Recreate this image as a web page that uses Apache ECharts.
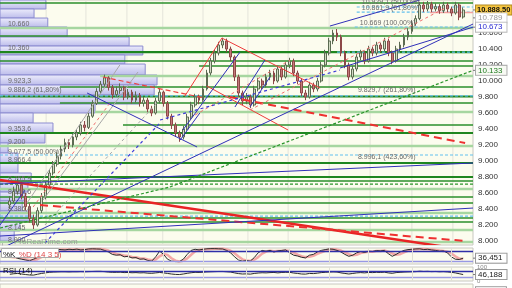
<!DOCTYPE html>
<html><head><meta charset="utf-8">
<script src="https://cdn.jsdelivr.net/npm/echarts@6/dist/echarts.min.js"></script>
<style>html,body{margin:0;padding:0;background:#fff}#c{width:512px;height:288px}</style>
</head><body><div id="c"></div>
<script>
// ---------- DATA ----------
const barCount = 120;          // category slots on the time axis
const firstBar = 2;            // index of first drawn candle
// [open, close, low, high]
const candles = [
[8450,8500,8400,8560],[8500,8620,8470,8680],[8620,8700,8580,8780],[8700,8560,8520,8740],
[8560,8430,8380,8600],[8430,8280,8230,8470],[8280,8200,8150,8330],[8200,8380,8180,8420],
[8380,8560,8350,8600],[8560,8700,8520,8740],[8700,8850,8670,8890],[8850,8960,8820,9000],
[8960,9060,8930,9110],[9060,9150,9020,9190],[9150,9230,9110,9280],[9230,9200,9150,9270],
[9200,9300,9170,9340],[9300,9350,9260,9400],[9350,9450,9320,9490],[9450,9420,9370,9500],
[9420,9560,9400,9600],[9560,9720,9540,9760],[9720,9870,9700,9910],[9870,9960,9840,10000],
[9960,10040,9920,10080],[10040,9920,9880,10060],[9920,9830,9780,9950],[9830,9880,9800,9930],
[9880,9920,9840,9970],[9920,9800,9760,9940],[9800,9860,9770,9900],[9860,9760,9720,9890],
[9760,9820,9730,9870],[9820,9720,9680,9850],[9720,9760,9680,9800],[9760,9650,9610,9790],
[9650,9600,9560,9690],[9600,9750,9580,9790],[9750,9860,9720,9900],[9860,9720,9680,9880],
[9720,9560,9520,9750],[9560,9450,9400,9590],[9450,9350,9300,9480],[9350,9300,9240,9380],
[9300,9400,9270,9440],[9400,9550,9380,9590],[9550,9700,9520,9740],[9700,9800,9670,9840],
[9800,9760,9710,9830],[9760,9900,9740,9940],[9900,10100,9880,10140],[10100,10250,10070,10290],
[10250,10350,10220,10390],[10350,10450,10320,10490],[10450,10500,10410,10540],[10500,10400,10360,10530],
[10400,10300,10250,10430],[10300,10050,10000,10320],[10050,9850,9800,10080],[9850,9750,9700,9880],
[9750,9800,9710,9850],[9800,9700,9660,9830],[9700,9900,9680,9940],[9900,10000,9870,10040],
[10000,9950,9900,10030],[9950,10050,9920,10090],[10050,10100,10010,10140],[10100,10000,9960,10130],
[10000,10150,9980,10190],[10150,10050,10010,10180],[10050,10200,10030,10240],[10200,10250,10160,10290],
[10250,10100,10060,10280],[10100,10000,9960,10130],[10000,9850,9810,10030],[9850,9800,9760,9890],
[9800,9950,9780,9990],[9950,9900,9860,9980],[9900,10000,9870,10040],[10000,10200,9980,10240],
[10200,10350,10170,10390],[10350,10500,10320,10540],[10500,10600,10460,10640],[10600,10550,10500,10650],
[10550,10350,10310,10580],[10350,10200,10160,10380],[10200,10050,10010,10230],[10050,10150,10020,10190],
[10150,10300,10120,10340],[10300,10350,10260,10390],[10350,10250,10210,10380],[10250,10400,10230,10440],
[10400,10350,10310,10430],[10350,10450,10320,10490],[10450,10400,10360,10480],[10400,10500,10370,10540],
[10500,10350,10310,10530],[10350,10250,10210,10380],[10250,10400,10230,10440],[10400,10450,10360,10490],
[10450,10550,10420,10590],[10550,10620,10510,10660],[10620,10720,10590,10760],[10720,10780,10690,10820],
[10780,10950,10760,10990],[10950,10900,10860,10990],[10900,10960,10870,11000],[10960,10900,10860,10990],
[10900,10930,10870,10970],[10930,10880,10840,10960],[10880,10950,10850,10990],[10950,10900,10860,10980],
[10900,10850,10810,10930],[10850,10950,10830,10990],[10950,10800,10760,10970],[10800,10888,10780,10920]
];
const priceTicks = [8000,8200,8400,8600,8800,9000,9200,9400,9600,9800,10000,10200,10400,10600,10800];
// horizontal levels: [price, fromBar, toBar, style]
const levels = [
[10975,-0.5,119.5,'g'],[10662,-0.5,119.5,'lg'],[10562,-0.5,119.5,'g'],[10362,-0.5,119.5,'G'],
[10362,85,119.5,'c'],[10250,-0.5,119.5,'g'],[10187,50,119.5,'g'],[10062,24.9,119.5,'lg'],
[9925,14.7,119.5,'g'],[9806,-0.5,119.5,'G'],[9815,-0.5,119.5,'c'],[9725,14.7,119.5,'g'],
[9612,23.6,119.5,'lg'],[9450,30.7,119.5,'g'],[9350,-0.5,119.5,'G'],[9187,-0.5,119.5,'lg'],
[9075,-0.5,119.5,'c'],[8975,-0.5,119.5,'G'],[8800,-0.5,119.5,'G'],[8750,-0.5,119.5,'g'],
[8712,-0.5,119.5,'gd'],[8650,-0.5,119.5,'lg'],[8550,-0.5,119.5,'g'],[8475,-0.5,119.5,'g'],
[8350,-0.5,119.5,'lg'],[8312,-0.5,119.5,'c'],[8287,-0.5,119.5,'g'],[8237,-0.5,119.5,'g'],
[8137,-0.5,119.5,'lg'],[7987,-0.5,119.5,'lg'],
[10925,90,119.5,'c'],[10862,90,119.5,'c'],[10675,89.5,119.5,'c'],[10856,108.6,119.5,'sal']
];
// trend lines: [bar1, price1, bar2, price2, style]
const trendLines = [
[-0.5,8762,119.5,7875,'R'],[9.65,8450,117.5,8000,'RD'],
[46.4,9812,55.8,10537,'r'],[55.8,10537,80.7,9912,'r'],[52.0,9937,72.6,9387,'r'],
[57.8,9800,117.5,9225,'RD'],[25.6,10050,51.5,9787,'rd'],
[7.9,8425,27.4,9725,'pd'],[49,9575,73.1,10262,'pd'],[62.9,9637,112.4,10912,'pd'],
[6.35,8475,29.9,10200,'gr'],[10.4,8512,34.5,10112,'gr'],[10.9,8200,39.3,9725,'grd'],
[-0.5,7900,119.5,10712,'b'],[85.75,10162,119.5,10673,'b'],[40.1,9512,85.75,10137,'bd'],
[83.2,10687,106,11012,'b'],[21.6,9850,49.5,9175,'b'],[45.9,9387,60.4,10362,'b'],
[59.1,9675,66.7,10262,'b'],[62.9,9675,68,10050,'b'],[-0.5,8712,119.5,8975,'b'],
[-0.5,8062,119.5,8412,'b'],[-0.5,8200,5.84,8637,'b'],[10.9,7975,40.1,9475,'bd'],
[45.2,9262,50.2,9600,'b'],
[-0.5,8162,42.6,8675,'gd'],[42.6,8675,119.5,10133,'gd']
];
const vGrid = [11.2,21.3,31.7,40.8,51,62.4,72.6,83,93.4,104,114.4];
const profileEdges = [11012,10900,10787,10675,10550,10437,10325,10212,10075,9950,9825,9712,9600,9475,9350,9225,9100,8975,8850,8737,8612,8500,8375,8250,8125,8000];
const profileVol = [9.7,7.2,10.1,14.2,27.3,30.2,26.4,30.7,33.2,32.6,29.6,20.1,7.0,11.2,9.5,1.7,3.8,3.8,6.6,5.9,5.3,4.7,6.3,4.2,3.0];
const chartLabels = [
[1.5,10712,'10.660'],[1.5,10412,'10.360'],[1.5,10000,'9.923,3'],[1.5,9887,'9.886,2 (61,80%)'],
[1.5,9400,'9.353,6'],[1.5,9237,'9.200'],[1.5,9112,'9.077,5 (50,00%)'],[1.5,9012,'8.966,4'],
[1.5,8775,'8.755,9'],[1.5,8612,'8.556,6'],[1.5,8400,'8.386,4'],[1.5,8162,'8.145'],[1.5,8012,'8.000'],
[91.3,10990,'10.929,1 (50,00%)'],[91.3,10912,'10.861,9 (61,80%)'],[90.8,10725,'10.669 (100,00%)'],
[90.3,9887,'9.829,7 (261,80%)'],[90.3,9050,'8.996,1 (423,60%)']
];
// right-hand price tags: [price, text, kind]
const priceTags = [[10888,'10.888,50','last'],[10789,'10.789','grey'],[10673,'10.673','blue'],[10133,'10.133','green']];
const stochK = [40,45,35,30,25,20,30,40, 60,75,85,90,92, 90,88,92,90,93,88,90,94,95,94,93,85,75,
60,55,58,45,48,38,40,30,32,22, 18,45,80, 60,30,18,15, 15,30,60, 85,92,88,92,95,96,96,95,94,85,70,45,
25,18,22,18,40, 70,85, 80,85,75,82,85,88, 70,55, 50,42,38, 55,60,75,85,90,94, 92,85,75,60,48,
55,70,78,72,80,78,84,82, 85,65,48,60,75, 85,90,92,94,95,90,92,88,85,80, 82,70,45,30,28,36.451];
const stochD = [45,42,40,37,30,25,25,30, 43,58,73,83,89, 91,90,90,90,91,90,90,91,93,94,94,91,84,
73,63,58,53,50,44,42,36,34,28, 24,28,48, 62,57,36,21, 16,20,35, 58,79,88,91,92,94,96,96,95,91,83,67,
47,29,22,19,27, 43,65, 78,83,80,81,81,85, 81,71, 58,49,43, 45,51,63,73,83,90, 92,90,84,73,61,
54,58,68,73,77,77,81,81, 84,77,66,58,61, 73,83,89,92,94,93,92,90,88,84, 82,77,66,48,34,31];
const rsi = [48,52,54,50,46,43,42,48, 54,58,62,64,65, 66,66,65,66,66,67,66,67,68,69,69,67,64,
62,62,63,60,61,59,60,58,59,56, 55,58,61, 58,54,50,47, 46,50,55, 59,62,61,63,65,66,67,68,68,66,64,58,
53,50,51,49,54, 57,59, 58,60,61,58,61,62, 62,57, 54,50,49, 54,53,56,60,62,64, 65,64,58,54,50,
54,58,60,58,61,60,62,61, 63,58,55,60,62, 64,65,66,67,70,68,69,67,68,66, 67,65,62,58,52,46.188];
const stochLast = 36.451, rsiLast = 46.188, adxLast = 45.118;

// ---------- BUILD ----------
const FONT = 'Liberation Sans, Arial, sans-serif';
const cats = []; for (let k = 0; k < barCount; k++) cats.push(String(k));
const tail = barCount - firstBar - candles.length;
const emptyC = ['-','-','-','-'];
const candleData = [].concat(new Array(firstBar).fill(emptyC), candles, new Array(tail).fill(emptyC));
const padLine = a => [].concat(new Array(firstBar).fill(null), a, new Array(tail).fill(null));
const fmtPrice = v => { const s = String(Math.round(v)); return s.slice(0, -3) + '.' + s.slice(-3); };
const fmtDec = v => v.toFixed(3).replace('.', ',');

const STY = {
  g:{stroke:'#2b8f2b',lineWidth:1.5}, G:{stroke:'#1f861f',lineWidth:2.2},
  lg:{stroke:'#a6d6a0',lineWidth:2.5}, gd:{stroke:'#2b952b',lineWidth:1.2,lineDash:[3,2]},
  c:{stroke:'#62c0ee',lineWidth:1.2,lineDash:[3,2]}, sal:{stroke:'#f2a0a0',lineWidth:1.5},
  r:{stroke:'#ee3b3b',lineWidth:1}, R:{stroke:'#e82424',lineWidth:2.5},
  RD:{stroke:'#ee3030',lineWidth:2,lineDash:[8,5]}, rd:{stroke:'#ee4040',lineWidth:1.2,lineDash:[5,3]},
  pd:{stroke:'#f07070',lineWidth:1,lineDash:[3,3]}, b:{stroke:'#3030b8',lineWidth:1},
  bd:{stroke:'#3a3ad8',lineWidth:1.2,lineDash:[3,3]}, gr:{stroke:'#a8a8a8',lineWidth:1},
  grd:{stroke:'#a8a8a8',lineWidth:1,lineDash:[3,3]}, v:{stroke:'#e4e4da',lineWidth:1}
};
const segStyle = s => Object.assign({fill:null}, STY[s]);

const chart = echarts.init(document.getElementById('c'), null, {renderer:'canvas', width:512, height:288});

const gridBase = {left:0, width:473, show:true, backgroundColor:'#fcfcee', borderColor:'#c8c8c0', borderWidth:1, outerBoundsMode:'none', containLabel:false};

const profileGrad = new echarts.graphic.LinearGradient(0,0,0,1,[{offset:0,color:'#eeeefc'},{offset:1,color:'#babaea'}]);

const tagStyles = {
  last:{fill:'#111', bg:'#f6c640', border:'#b08820', weight:'bold', size:7.5, pad:[1,1,0,1]},
  grey:{fill:'#9a9a9a', bg:'#ffffff', border:'#cccccc', weight:'normal', size:8, pad:[1,4,0,2]},
  blue:{fill:'#2a2ad0', bg:'#ffffff', border:'#bbbbbb', weight:'normal', size:8, pad:[1,4,0,2]},
  green:{fill:'#1e7a1e', bg:'#f8faf4', border:'#aaaaaa', weight:'normal', size:8, pad:[1,4,0,2]},
  panel:{fill:'#222', bg:'#ffffff', border:'#999999', weight:'normal', size:8, pad:[1,4,0,2]}
};
function tagItem(p, text, kind) {
  const t = tagStyles[kind];
  return {type:'group', children:[
    {type:'line', shape:{x1:p[0], y1:p[1], x2:p[0]+4, y2:p[1]}, style:{stroke:'#777', lineWidth:1}},
    {type:'text', x:p[0]+3, y:p[1], style:{text:text, fill:t.fill, fontSize:t.size, fontFamily:FONT, fontWeight:t.weight,
      align:'left', verticalAlign:'middle', backgroundColor:t.bg, borderColor:t.border, borderWidth:1, padding:t.pad}}
  ]};
}

const vMarks = vGrid.map(v => ({xAxis: String(Math.round(v))}));
const mlBase = {symbol:['none','none'], silent:true, label:{show:false}, animation:false};

const option = {
  animation:false,
  backgroundColor:'#ffffff',
  grid:[
    Object.assign({top:0, height:245}, gridBase),
    Object.assign({top:248, height:16}, gridBase),
    Object.assign({top:267, height:14}, gridBase),
    Object.assign({top:284, height:14}, gridBase)
  ],
  xAxis:[
    {type:'category', gridIndex:0, data:cats, show:false},
    {type:'value', gridIndex:0, min:-0.5, max:barCount-0.5, show:false},
    {type:'value', gridIndex:0, min:0, max:100, show:false},
    {type:'category', gridIndex:1, data:cats, show:false},
    {type:'category', gridIndex:2, data:cats, show:false},
    {type:'category', gridIndex:3, data:cats, show:false}
  ],
  yAxis:[
    {type:'value', gridIndex:0, position:'right', min:7950, max:11012.5, scale:true,
      splitLine:{show:false}, axisLine:{show:true, lineStyle:{color:'#b0b0b0'}},
      axisTick:{show:true, length:3, lineStyle:{color:'#777'}, customValues:priceTicks},
      axisLabel:{customValues:priceTicks, formatter:fmtPrice, fontSize:8, color:'#333', margin:5, fontFamily:FONT}},
    {type:'value', gridIndex:1, min:0, max:100, show:false},
    {type:'value', gridIndex:2, min:0, max:100, position:'right', splitLine:{show:false}, axisLine:{show:false},
      axisTick:{show:false}, axisLabel:{customValues:[0,100], fontSize:6, color:'#888', margin:4, fontFamily:FONT}},
    {type:'value', gridIndex:3, min:0, max:100, show:false}
  ],
  graphic:[
    {type:'text', left:14, top:238, z:5, style:{text:'ProRealTime.com', fill:'#9a9a9a', fontSize:8, fontFamily:FONT}},
    {type:'rect', left:1, top:248, z:20, shape:{width:57, height:9}, style:{fill:'#ffffff', stroke:'#aaaaaa', lineWidth:1}},
    {type:'text', left:3, top:249, z:21, style:{text:'{k|%K} {d|%D (14 3 5)}', rich:{k:{fill:'#111',fontSize:8,fontFamily:FONT},d:{fill:'#e04848',fontSize:8,fontFamily:FONT}}}},
    {type:'text', left:3, top:267, z:21, style:{text:'RSI (14)', fill:'#111', fontSize:8, fontFamily:FONT}},
    {type:'text', left:3, top:285, z:21, style:{text:'{k|ADX} {d|ADXR (14 14)}', rich:{k:{fill:'#111',fontSize:8,fontFamily:FONT},d:{fill:'#e04848',fontSize:8,fontFamily:FONT}}}}
  ],
  series:[
    {type:'custom', name:'vgrid', xAxisIndex:1, yAxisIndex:0, z:1, clip:true, silent:true,
      data:vGrid.map(v => [v, 7950]),
      renderItem:(params, api) => {
        const a = api.coord([api.value(0), 7950]), b = api.coord([api.value(0), 11012.5]);
        return {type:'line', shape:{x1:a[0], y1:a[1], x2:b[0], y2:b[1]}, style:segStyle('v')};
      }},
    {type:'custom', name:'profile', xAxisIndex:2, yAxisIndex:0, z:1, clip:true, silent:true,
      data:profileVol.map((v, k) => [v, profileEdges[k+1], profileEdges[k]]),
      renderItem:(params, api) => {
        const lo = api.coord([0, api.value(1)]), hi = api.coord([api.value(0), api.value(2)]);
        return {type:'rect', shape:{x:lo[0], y:hi[1], width:hi[0]-lo[0], height:lo[1]-hi[1]},
          style:{fill:profileGrad, stroke:'#8c8cd0', lineWidth:1}};
      }},
    {type:'custom', name:'levels', xAxisIndex:1, yAxisIndex:0, z:2, clip:true, silent:true,
      data:levels.map(l => [l[1], l[0], l[2], l[0]]),
      renderItem:(params, api) => {
        const a = api.coord([api.value(0), api.value(1)]), b = api.coord([api.value(2), api.value(3)]);
        return {type:'line', shape:{x1:a[0], y1:a[1], x2:b[0], y2:b[1]}, style:segStyle(levels[params.dataIndex][3])};
      }},
    {type:'candlestick', name:'price', xAxisIndex:0, yAxisIndex:0, z:3, barWidth:'58%', clip:true,
      data:candleData,
      itemStyle:{color:'#d2dcc4', color0:'#c47a7a', borderColor:'#5c6b52', borderColor0:'#8c4848', borderWidth:1}},
    {type:'custom', name:'trend', xAxisIndex:1, yAxisIndex:0, z:4, clip:true, silent:true,
      data:trendLines.map(l => [l[0], l[1], l[2], l[3]]),
      renderItem:(params, api) => {
        const a = api.coord([api.value(0), api.value(1)]), b = api.coord([api.value(2), api.value(3)]);
        return {type:'line', shape:{x1:a[0], y1:a[1], x2:b[0], y2:b[1]}, style:segStyle(trendLines[params.dataIndex][4])};
      }},
    {type:'custom', name:'labels', xAxisIndex:1, yAxisIndex:0, z:5, clip:true, silent:true,
      data:chartLabels.map(l => [l[0], l[1]]),
      renderItem:(params, api) => {
        const p = api.coord([api.value(0), api.value(1)]);
        return {type:'text', x:p[0], y:p[1], style:{text:chartLabels[params.dataIndex][2], fill:'#6a6a6a', fontSize:7, fontFamily:FONT, align:'left', verticalAlign:'middle'}};
      }},
    {type:'custom', name:'tags', xAxisIndex:1, yAxisIndex:0, z:10, clip:false, silent:true,
      data:priceTags.map(t => [barCount-0.5, t[0]]),
      renderItem:(params, api) => {
        const p = api.coord([api.value(0), api.value(1)]);
        const t = priceTags[params.dataIndex];
        return tagItem(p, t[1], t[2]);
      }},
    {type:'line', name:'%D', xAxisIndex:3, yAxisIndex:1, data:padLine(stochD), symbol:'none', z:2,
      lineStyle:{color:'#f29a9a', width:2.5, opacity:0.85},
      markLine:Object.assign({}, mlBase, {data:[
        {yAxis:80, lineStyle:{color:'#2e2ea8', width:1.3, type:'solid'}},
        {yAxis:20, lineStyle:{color:'#9898e4', width:1.3, type:'solid'}}
      ].concat(vMarks.map(m => Object.assign({lineStyle:{color:'#e0e0d6', width:1, type:'solid'}}, m)))})},
    {type:'line', name:'%K', xAxisIndex:3, yAxisIndex:1, data:padLine(stochK), symbol:'none', z:3,
      lineStyle:{color:'#2a2a2a', width:1}},
    {type:'line', name:'RSI', xAxisIndex:4, yAxisIndex:2, data:padLine(rsi), symbol:'none', z:3,
      lineStyle:{color:'#2a2a2a', width:1},
      markLine:Object.assign({}, mlBase, {data:[
        {yAxis:70, lineStyle:{color:'#2e2ea8', width:1.3, type:'solid'}},
        {yAxis:30, lineStyle:{color:'#9898e4', width:1.3, type:'solid'}}
      ].concat(vMarks.map(m => Object.assign({lineStyle:{color:'#e0e0d6', width:1, type:'solid'}}, m)))})},
    {type:'custom', name:'stochTag', xAxisIndex:3, yAxisIndex:1, z:10, clip:false, silent:true,
      data:[[barCount-1, stochLast]],
      renderItem:(params, api) => { const p = api.coord([api.value(0), api.value(1)]); return tagItem([p[0]+2, p[1]], fmtDec(api.value(1)), 'panel'); }},
    {type:'custom', name:'rsiTag', xAxisIndex:4, yAxisIndex:2, z:10, clip:false, silent:true,
      data:[[barCount-1, rsiLast]],
      renderItem:(params, api) => { const p = api.coord([api.value(0), api.value(1)]); return tagItem([p[0]+2, p[1]], fmtDec(api.value(1)), 'panel'); }},
    {type:'custom', name:'adxTag', xAxisIndex:5, yAxisIndex:3, z:10, clip:false, silent:true,
      data:[[barCount-1, adxLast]],
      renderItem:(params, api) => { const p = api.coord([api.value(0), api.value(1)]); return tagItem([p[0]+2, p[1]], fmtDec(api.value(1)), 'panel'); }}
  ]
};
chart.setOption(option);
</script>
</body></html>
